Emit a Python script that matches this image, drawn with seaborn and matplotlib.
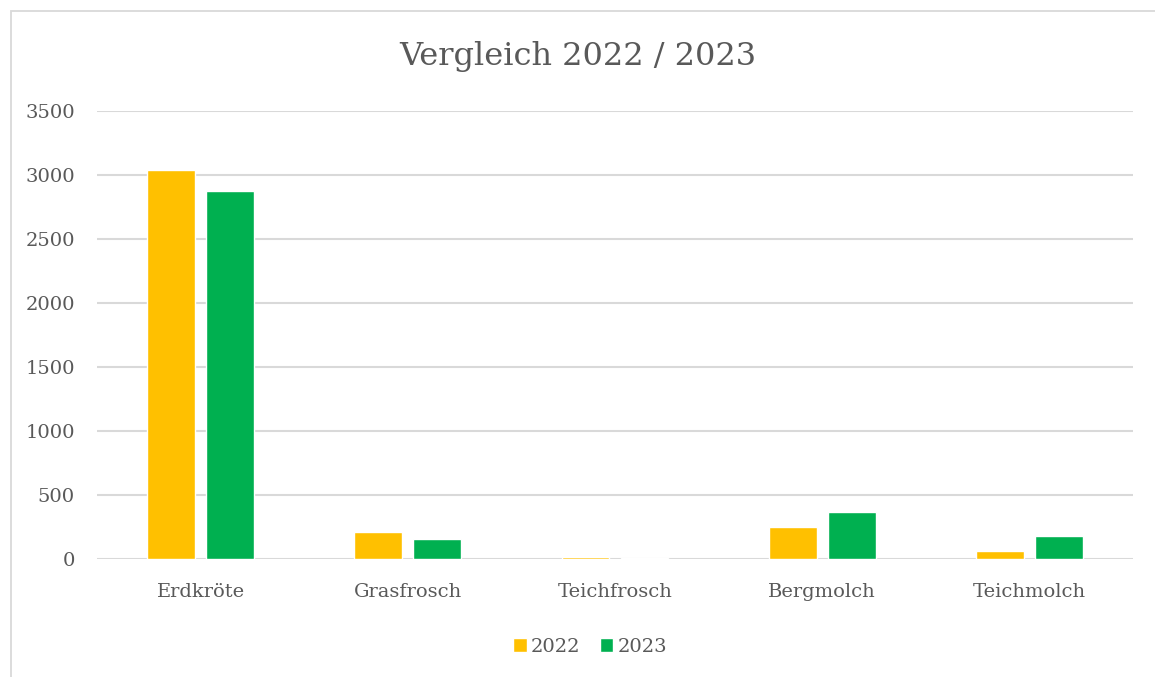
import matplotlib
matplotlib.use("Agg")
import matplotlib.pyplot as plt
import seaborn as sns
import pandas as pd
from matplotlib.patches import Rectangle

# data
species = ["Erdkröte", "Grasfrosch", "Teichfrosch", "Bergmolch", "Teichmolch"]
counts_2022 = [3040, 208, 16, 248, 65]
counts_2023 = [2878, 156, 8, 367, 180]
years = ["2022", "2023"]
y_ticks = [0, 500, 1000, 1500, 2000, 2500, 3000, 3500]

df = pd.DataFrame({
    "Art": species * 2,
    "Jahr": [years[0]] * len(species) + [years[1]] * len(species),
    "Anzahl": counts_2022 + counts_2023,
})

sns.set_style("white")
plt.rcParams["font.family"] = ["DejaVu Serif"]
text_color = "#595959"

fig = plt.figure(figsize=(11.55, 6.77), dpi=100)
ax = fig.add_axes([0.084, 0.1743, 0.897, 0.6617])

sns.barplot(data=df, x="Art", y="Anzahl", hue="Jahr",
            palette=["#FFC000", "#00B050"], width=0.57, gap=0.19,
            saturation=1, ax=ax, zorder=3)

ax.set_xlim(-0.5, len(species) - 0.5)
ax.set_ylim(0, 3500)
ax.set_yticks(y_ticks)
ax.grid(axis="y", color="#D9D9D9", linewidth=1.5, zorder=0)
for s in ax.spines.values():
    s.set_visible(False)
ax.tick_params(axis="both", length=0, labelsize=14, colors=text_color)
ax.tick_params(axis="y", pad=16)
ax.tick_params(axis="x", pad=17)
ax.set_xlabel("")
ax.set_ylabel("")

fig.suptitle("Vergleich 2022 / 2023", y=0.939, fontsize=23, color=text_color)

handles, labels = ax.get_legend_handles_labels()
ax.legend(handles, labels, loc="center", bbox_to_anchor=(0.511, 0.045),
          bbox_transform=fig.transFigure, ncol=2, frameon=False,
          handlelength=0.7, handleheight=0.7, handletextpad=0.2,
          columnspacing=1.0, fontsize=14, labelcolor=text_color)

# chart frame (cropped on the right and bottom)
fig.patches.append(Rectangle((11 / 1155, -0.05), 1.2, 1 - 11 / 677 + 0.05,
                             transform=fig.transFigure, fill=False,
                             edgecolor="#D9D9D9", linewidth=1.3))

fig.savefig("out.png", dpi=100)
